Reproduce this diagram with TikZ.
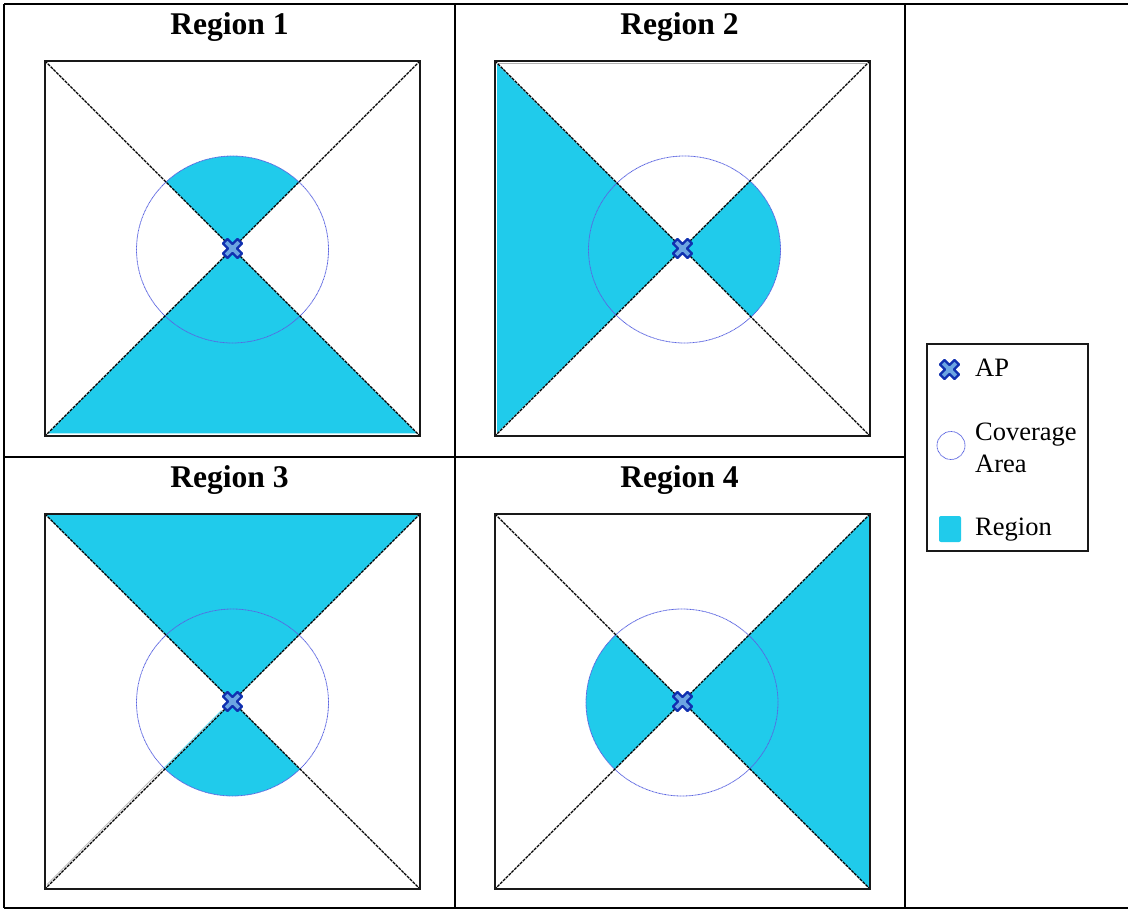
\documentclass[tikz,border=0pt]{standalone}
\usepackage{fontspec}
\setmainfont{Liberation Serif}
\definecolor{regioncol}{RGB}{32,203,235}
\definecolor{apfill}{RGB}{108,165,226}
\definecolor{apline}{RGB}{16,48,176}
\definecolor{covcol}{RGB}{90,100,225}
\tikzset{
 tableline/.style={black,line width=2pt},
 framebox/.style={black!90,line width=2.2pt},
 diag/.style={black,line width=1.4pt,dash pattern=on 3pt off 1pt},
 cover/.style={covcol,line width=0.8pt,dash pattern=on 1pt off 0.5pt},
 title/.style={font=\bfseries\fontsize{31.6}{32}\selectfont,inner sep=0pt},
 legendtext/.style={font=\fontsize{26.5}{32}\selectfont,anchor=west,inner sep=0pt,align=left},
 pics/apmark/.style={code={\draw[fill=apfill,draw=apline,line width=2.2pt,line join=round,scale=#1]
   (-5,-9.5)--(0,-4.5)--(5,-9.5)--(9.5,-5)--(4.5,0)--(9.5,5)--(5,9.5)--(0,4.5)--(-5,9.5)--(-9.5,5)--(-4.5,0)--(-9.5,-5)--cycle;}}
}
\newcommand{\covershape}[1]{(#1,188.5) ellipse [x radius=96, y radius=93.5]}
\newcommand{\panel}[6]{%
 \begin{scope}[shift={(#1,#2)}]
  #5
  \coordinate (#3tl) at (0,0); \coordinate (#3tr) at (375,0);
  \coordinate (#3bl) at (0,375); \coordinate (#3br) at (375,375);
  \draw[cover] \covershape{#6};
  \draw[diag] (#3tl)--(#3br);
  \draw[diag] (#3tr)--(#3bl);
  \draw[framebox] (#3tl) rectangle (#3br);
  \pic at (187.5,187.5) {apmark=1};
  \node[title] at (184.5,-34) {#4};
 \end{scope}}
\begin{document}
\begin{tikzpicture}[x=1pt,y=-1pt]
\useasboundingbox (0,0) rectangle (1128,909);
\fill[white] (0,0) rectangle (1128,909);
\panel{45}{61}{a}{Region 1}{%
  \fill[regioncol] (187.5,187.5)--(3,372.5)--(372,372.5)--cycle;
  \begin{scope}\clip (187.5,187.5)--(75,75)--(300,75)--cycle;
   \fill[regioncol] \covershape{187.5};\end{scope}
  }{187.5}
\panel{495}{61}{b}{Region 2}{%
  \draw[black!30,line width=0.8pt] (3,2.5)--(372,2.5);
  \fill[regioncol] (187.5,187.5)--(2,3)--(2,372)--cycle;
  \begin{scope}\clip (187.5,187.5)--(300,75)--(300,300)--cycle;
   \fill[regioncol] \covershape{189.5};\end{scope}
  }{189.5}
\panel{45}{514}{c}{Region 3}{%
  \fill[regioncol] (187.5,187.5)--(0,0)--(375,0)--cycle;
  \begin{scope}\clip (187.5,187.5)--(75,300)--(300,300)--cycle;
   \fill[regioncol] \covershape{187.5};\end{scope}
  \draw[regioncol!70,line width=1pt] (176.5,196.5)--(118.5,254.5);
  \draw[black!25,line width=0.9pt] (117.5,254.5)--(2,370.5);
  }{187.5}
\panel{495}{514}{d}{Region 4}{%
  \fill[regioncol] (187.5,187.5)--(375,0)--(375,375)--cycle;
  \begin{scope}\clip (187.5,187.5)--(75,75)--(75,300)--cycle;
   \fill[regioncol] \covershape{187};\end{scope}
  }{187}
% table
\coordinate (t1) at (4,4); \coordinate (t2) at (1128,4);
\coordinate (t3) at (4,908); \coordinate (t4) at (1128,908);
\draw[tableline] (t1)--(t2);
\draw[tableline] (t3)--(t4);
\draw[tableline] (t1)--(t3);
\draw[tableline] (455,4)--(455,908);
\draw[tableline] (905,4)--(905,908);
\draw[tableline] (4,457)--(905,457);
% legend
\node[draw=black!90,line width=1.9pt,minimum width=161pt,minimum height=207pt,inner sep=0pt] (legend) at (1007.5,447.5) {};
\pic at (949.5,369.5) {apmark=1};
\node[legendtext] (lap) at (975,368) {AP};
\node[cover,draw,circle,minimum size=28pt,inner sep=0pt] (lcov) at (951,445.5) {};
\node[legendtext] (lcovt) at (975,448) {Coverage\\Area};
\node[fill=regioncol,rounded corners=2pt,minimum width=22pt,minimum height=26pt,inner sep=0pt] (lreg) at (950,529) {};
\node[legendtext] (lregt) at (975,530) {Region};
\end{tikzpicture}
\end{document}
